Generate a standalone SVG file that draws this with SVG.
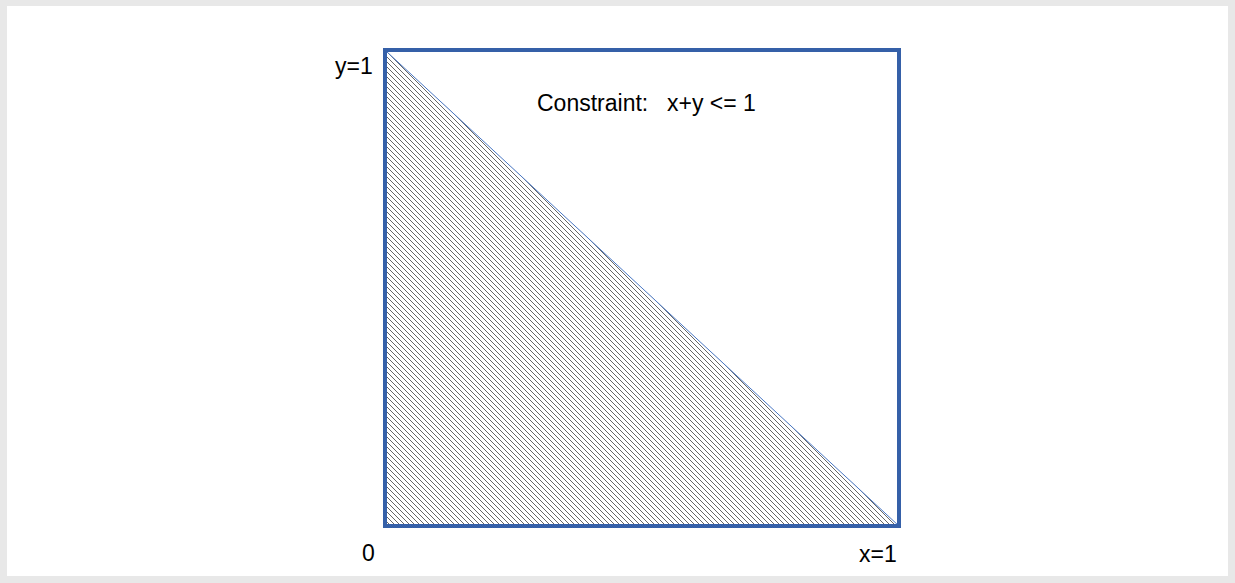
<svg xmlns="http://www.w3.org/2000/svg" width="1235" height="583" viewBox="0 0 1235 583">
<defs>
<style>
.t{font-family:"Liberation Sans",Arial,sans-serif;font-size:23px;fill:#000}
</style>
<pattern id="hatch" patternUnits="userSpaceOnUse" width="5" height="5">
<path d="M-1,-1 L6,6 M-1,4 L1,6 M4,-1 L6,1" stroke="#666" stroke-width="1"/>
</pattern>
</defs>
<rect x="0" y="0" width="1235" height="583" fill="#e8e8e8"/>
<rect x="7" y="6" width="1221" height="570" fill="#fff"/>
<g id="region">
<polygon points="386,51 386,526 899,526" fill="url(#hatch)"/>
<line x1="386" y1="51" x2="899" y2="526" stroke="#4a78c4" stroke-width="1"/>
</g>
<g id="box">
<rect x="385" y="50" width="514" height="476" fill="none" stroke="#3560a8" stroke-width="4"/>
</g>
<g id="labels">
<text class="t" x="335" y="74">y=1</text>
<text class="t" x="537" y="111">Constraint:</text>
<text class="t" x="667" y="111">x+y &lt;= 1</text>
<text class="t" x="362" y="561">0</text>
<text class="t" x="859" y="562">x=1</text>
</g>
</svg>
